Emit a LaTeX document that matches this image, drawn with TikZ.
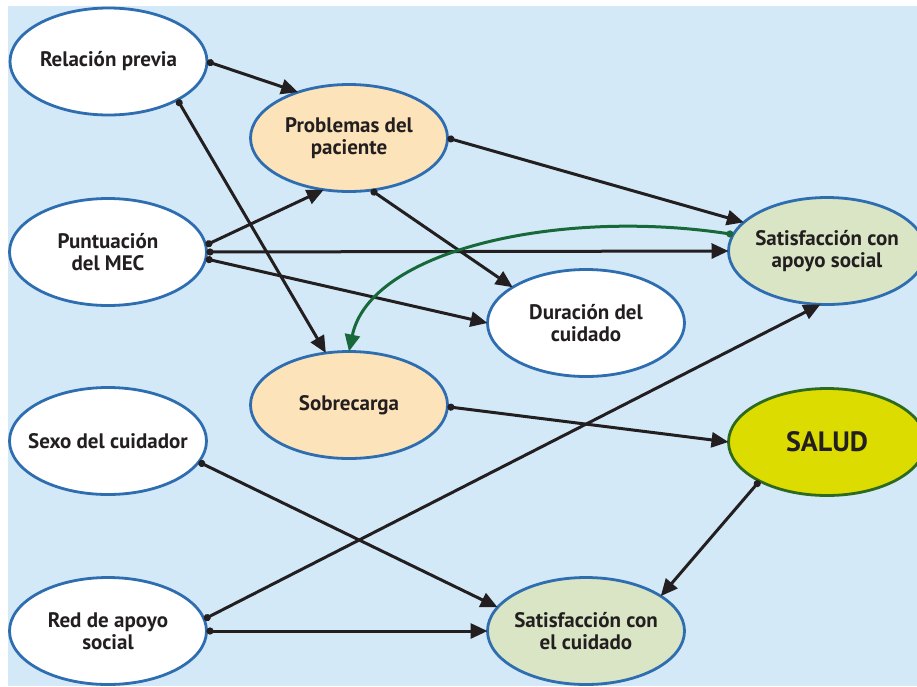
\documentclass[tikz,border=0pt]{standalone}
\usepackage{fontspec}
\setmainfont{PT Sans}
\usetikzlibrary{arrows.meta,shapes.geometric}
\definecolor{bgblue}{HTML}{D3E9F8}
\definecolor{rimblue}{HTML}{2E6DAF}
\definecolor{peach}{HTML}{FDE3B9}
\definecolor{sage}{HTML}{D9E5C4}
\definecolor{lemon}{HTML}{DCDC00}
\definecolor{rimgreen}{HTML}{2E6A1E}
\definecolor{linkgreen}{HTML}{17693A}
\definecolor{ink}{HTML}{231F20}
\tikzset{
  % fixed-size ellipse; the caption sits in a centred label so it never resizes the shape
  var/.style={ellipse, draw=rimblue, line width=2.8pt, fill=white,
    minimum width=197pt, minimum height=107pt, inner sep=0pt, outer sep=0pt},
  vtext/.style={align=center, text=ink, inner sep=0pt,
    font=\fontsize{21}{22.5}\selectfont\bfseries},
  mediator/.style={var, fill=peach},
  outcome/.style={var, fill=sage},
  health/.style={var, fill=lemon, draw=rimgreen},
  htext/.style={vtext, font=\fontsize{28}{30}\selectfont\bfseries},
  link/.style={draw=ink, line width=3pt,
    {Circle[length=7pt,width=7pt]}-{Triangle[length=17pt,width=15pt]}},
  glink/.style={link, draw=linkgreen,
    {Circle[length=7pt,width=7pt,fill=linkgreen]}-{Triangle[length=17pt,width=15pt,fill=linkgreen]}},
}
\begin{document}
\begin{tikzpicture}[x=1pt,y=-1pt]
\useasboundingbox (0,0) rectangle (917,686);
\clip (0,0) rectangle (917,686);
\fill[bgblue] (8,6) rectangle (917,686);

% variables
\node[var,      label={[vtext]center:Relación previa}]              (rel) at (108.5,61.5) {};
\node[mediator, label={[vtext]center:{Problemas del\\paciente}}]   (pro) at (349,138)    {};
\node[var,      label={[vtext]center:{Puntuación\\del MEC}}]       (mec) at (108,252)    {};
\node[outcome,  label={[vtext]center:{Satisfacción con\\apoyo social}}] (sap) at (827,251) {};
\node[var,      label={[vtext]center:{Duración del\\cuidado}}]     (dur) at (586,323)    {};
\node[mediator, label={[vtext]center:Sobrecarga}]                  (sob) at (349,405)    {};
\node[var,      label={[vtext]center:Sexo del cuidador}]           (sex) at (108,441)    {};
\node[health,   label={[htext]center:SALUD}]                       (sal) at (827,442)    {};
\node[var,      label={[vtext]center:{Red de apoyo\\social}}]      (red) at (108,631)    {};
\node[outcome,  label={[vtext]center:{Satisfacción con\\el cuidado}}] (scu) at (586,631) {};

% paths
\draw[link] (rel.0)   -- (pro.138);
\draw[link] (rel.-29) -- (sob.114);
\draw[link] (mec.4.6) -- (pro.244);
\draw[link] (mec.0)   -- (sap.180);
\draw[link] (mec.-4.6) -- (dur.180);
\draw[link] (pro.0)   -- (sap.161);
\draw[link] (pro.-67) -- (dur.154);
\draw[glink] (sap.170.7) .. controls (560,208) and (370,250) .. (sob.90);
\draw[link] (sob.-1)  -- (sal.180);
\draw[link] (sex.-13.7) -- (scu.165.5);
\draw[link] (red.7.5) -- (sap.263);
\draw[link] (red.0)   -- (scu.180);
\draw[link] (sal.210) -- (scu.25);
\end{tikzpicture}
\end{document}
